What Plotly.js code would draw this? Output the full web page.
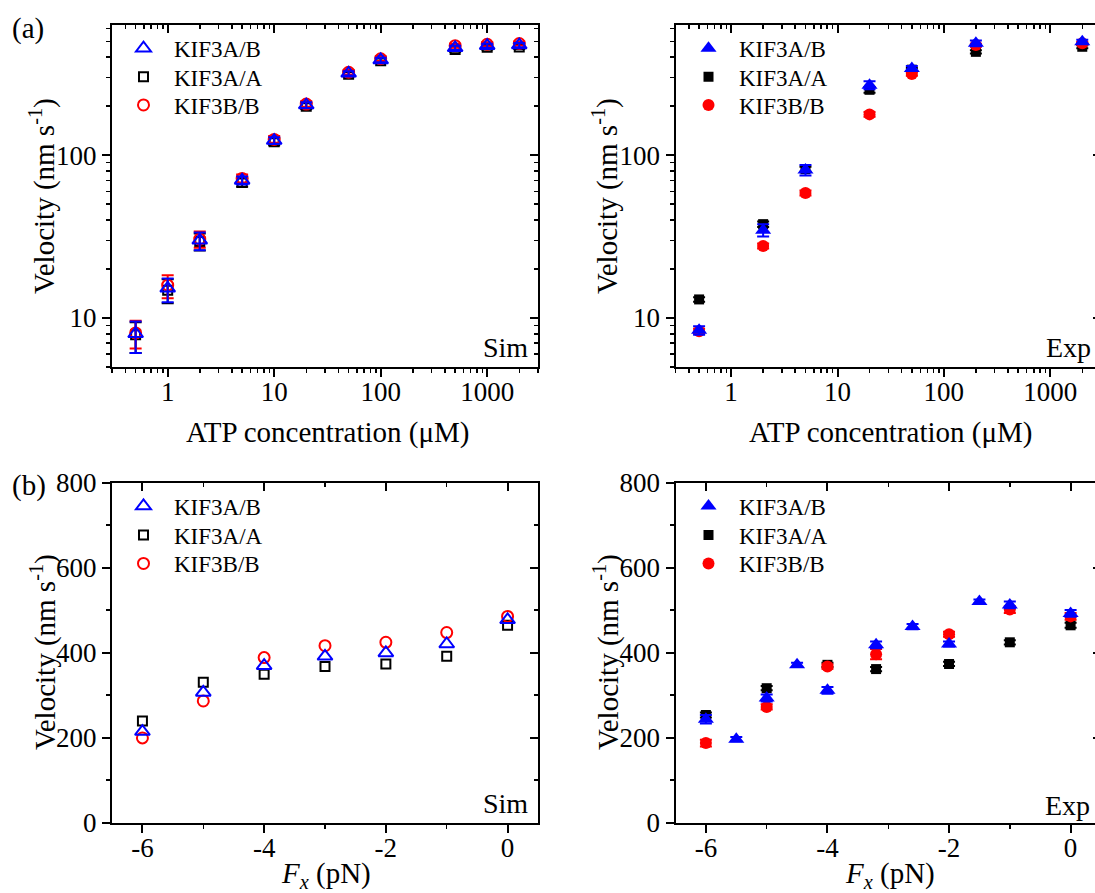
<!DOCTYPE html>
<html>
<head>
<meta charset="utf-8">
<script src="https://cdn.plot.ly/plotly-3.0.1.min.js"></script>
<style>
html,body{margin:0;padding:0;overflow:hidden;background:#fff;}
#chart{width:1110px;height:893px;}
</style>
</head>
<body>
<div id="chart"></div>
<script>
// ---------- data ----------
const seriesNames = ['KIF3A/B', 'KIF3A/A', 'KIF3B/B'];

// (a) Sim: velocity vs ATP
const atpSim = [0.5, 1, 2, 5, 10, 20, 50, 100, 500, 1000, 2000];
const simAB = [8.0, 15.2, 30, 70, 123, 203, 318, 384, 456, 470, 474];
const simABerrUp = [1.5, 2.3, 3.5, 4, 6, 8, 10, 12, 14, 14, 14];
const simABerrDn = [1.9, 2.7, 3.9, 4, 6, 8, 10, 12, 14, 14, 14];
const simAA = [7.9, 14.8, 29.5, 68, 121, 200, 314, 380, 446, 460, 462];
const simAAerrUp = [1.5, 2.5, 3.5, 4, 6, 8, 10, 12, 14, 14, 14];
const simAAerrDn = [1.8, 2.5, 3.5, 4, 6, 8, 10, 12, 14, 14, 14];
const simBB = [8.1, 15.9, 30.5, 72, 125, 206, 323, 391, 470, 480, 485];
const simBBerrUp = [1.5, 2.4, 3.5, 4, 6, 8, 10, 12, 14, 14, 14];
const simBBerrDn = [1.6, 2.7, 3.5, 4, 6, 8, 10, 12, 14, 14, 14];

// (a) Exp: velocity vs ATP
const atpExp = [0.5, 2, 5, 20, 50, 200, 2000];
const expAB = [8.4, 34.6, 81, 269, 341, 486, 497];
const expABerr = [0.5, 3, 6, 15, 12, 20, 15];
const expAA = [13, 37.7, 82, 252, 335, 431, 463];
const expAAerr = [0.4, 1.5, 3, 10, 8, 10, 10];
const expBB = [8.3, 27.7, 58.6, 178, 315, 474, 486];
const expBBerr = [0.3, 1, 2, 6, 8, 10, 10];

// (b) Sim: velocity vs force
const forceSim = [-6, -5, -4, -3, -2, -1, 0];
const fSimAB = [214, 306, 369, 391, 399, 420, 477];
const fSimAA = [239, 330, 349, 367, 373, 391, 464];
const fSimBB = [199, 286, 388, 416, 424, 447, 485];

// (b) Exp: velocity vs force
const forceExpAB = [-6, -5.5, -5, -4.5, -4, -3.2, -2.6, -2, -1.5, -1, 0];
const fExpAB = [243, 196, 293, 371, 311, 418, 461, 420, 520, 512, 492];
const fExpABerr = [10, 5, 8, 5, 8, 8, 6, 6, 5, 8, 8];
const forceExpAA = [-6, -5, -4, -3.2, -2, -1, 0];
const fExpAA = [253, 316, 371, 361, 373, 424, 464];
const fExpAAerr = [6, 5, 5, 5, 5, 5, 6];
const forceExpBB = [-6, -5, -4, -3.2, -2, -1, 0];
const fExpBB = [187, 272, 367, 396, 443, 501, 485];
const fExpBBerr = [8, 6, 5, 12, 6, 8, 8];

const atpTickVals = [1, 10, 100, 1000];
const atpTickText = ['1', '10', '100', '1000'];
const velLogTickVals = [10, 100];
const velLogTickText = ['10', '100'];
const forceTickVals = [-6, -4, -2, 0];
const forceTickText = ['-6', '-4', '-2', '0'];
const velLinTickVals = [0, 200, 400, 600, 800];
const velLinTickText = ['0', '200', '400', '600', '800'];
const panelLabels = ['(a)', '(b)'];
const panelTags = ['Sim', 'Exp', 'Sim', 'Exp'];
const velTitle = 'Velocity (nm s<sup>-1</sup>)';
const atpTitle = 'ATP concentration (\u03bcM)';
const fTitle = '<i>F</i><sub><i>x</i></sub> (pN)';

// ---------- styling / geometry ----------
const W = 1110, H = 893;
const FONT = 'Liberation Serif';
const BLUE = '#0000ff', BLACK = '#000000', RED = '#ff0000';
const panels = [
  {x0: 112, x1: 538, y0: 25, y1: 367},
  {x0: 675.5, x1: 1101, y0: 25, y1: 367},
  {x0: 112, x1: 538, y0: 482.5, y1: 822.5},
  {x0: 675.5, x1: 1101, y0: 482.5, y1: 822.5}
];
const xdom = p => [p.x0 / W, p.x1 / W];
const ydom = p => [1 - p.y1 / H, 1 - p.y0 / H];

const logX = {type: 'log', range: [Math.log10(0.3), Math.log10(3000)], tickvals: atpTickVals, ticktext: atpTickText, minorDtick: 'D1'};
const logY = {type: 'log', range: [Math.log10(5), Math.log10(630)], tickvals: velLogTickVals, ticktext: velLogTickText, minorDtick: 'D1'};
const linX = {type: 'linear', range: [-6.5, 0.5], tickvals: forceTickVals, ticktext: forceTickText, minorDtick: 1};
const linY = {type: 'linear', range: [0, 800], tickvals: velLinTickVals, ticktext: velLinTickText, minorDtick: 100};

function mainAxis(spec, dom, anchor, isX) {
  return {
    domain: dom, anchor: anchor, type: spec.type, range: spec.range,
    showgrid: false, zeroline: false, showline: true, mirror: true,
    linecolor: '#000', linewidth: 2,
    ticks: 'outside', ticklen: 8, tickwidth: 2, tickcolor: '#000',
    tickmode: 'array', tickvals: spec.tickvals, ticktext: spec.ticktext,
    ticklabelstandoff: isX ? -8 : 0,
    tickfont: {family: FONT, size: 27, color: '#000'},
    minor: {ticks: 'outside', ticklen: 4, tickwidth: 1.5, tickcolor: '#000', showgrid: false, dtick: spec.minorDtick,
      tick0: spec.type === 'linear' ? 0 : undefined}
  };
}
function mirrorAxis(spec, overlay, anchor, side) {
  return {
    overlaying: overlay, anchor: anchor, side: side, type: spec.type, range: spec.range,
    showgrid: false, zeroline: false, showline: false, showticklabels: false,
    ticks: 'inside', ticklen: 8, tickwidth: 2, tickcolor: '#000',
    tickmode: 'array', tickvals: spec.tickvals,
    minor: {ticks: 'inside', ticklen: 4, tickwidth: 1.5, tickcolor: '#000', showgrid: false, dtick: spec.minorDtick,
      tick0: spec.type === 'linear' ? 0 : undefined}
  };
}

const specs = [[logX, logY], [logX, logY], [linX, linY], [linX, linY]];
const layout = {
  width: W, height: H,
  margin: {l: 0, r: 0, t: 0, b: 0},
  paper_bgcolor: '#fff', plot_bgcolor: '#fff',
  font: {family: FONT, color: '#000'},
  annotations: [],
  showlegend: true
};
specs.forEach((s, i) => {
  const n = i + 1, m = i + 5;
  const p = panels[i];
  layout['xaxis' + n] = mainAxis(s[0], xdom(p), 'y' + n, true);
  layout['yaxis' + n] = mainAxis(s[1], ydom(p), 'x' + n, false);
  layout['xaxis' + m] = mirrorAxis(s[0], 'x' + n, 'y' + m, 'top');
  layout['yaxis' + m] = mirrorAxis(s[1], 'y' + n, 'x' + m, 'right');
});

// one legend per entry so each row sits where the reference has it
const legendX = [113, 678, 113, 678];
const legendRows = [[48.3, 76.7, 105], [48.3, 76.7, 105], [506, 535, 563.5], [506, 535, 563.5]];
function legendKey(panel, row) {
  const k = (panel - 1) * 3 + row + 1;
  return k === 1 ? 'legend' : 'legend' + k;
}
for (let p = 1; p <= 4; p++) {
  for (let r = 0; r < 3; r++) {
    layout[legendKey(p, r)] = {
      x: legendX[p - 1] / W, y: 1 - legendRows[p - 1][r] / H, xanchor: 'left', yanchor: 'middle',
      bgcolor: 'rgba(0,0,0,0)', borderwidth: 0,
      font: {family: FONT, size: 23, color: '#000'},
      itemwidth: 51
    };
  }
}

// annotations: panel labels, tags and axis titles
const ann = (txt, px, py, xa, size, angle) => ({
  text: txt, xref: 'paper', yref: 'paper', x: px / W, y: 1 - py / H,
  xanchor: xa, yanchor: 'middle', showarrow: false, textangle: angle || 0,
  font: {family: FONT, size: size, color: '#000'}
});
layout.annotations.push(ann(panelLabels[0], 10, 28, 'left', 29));
layout.annotations.push(ann(panelLabels[1], 10, 485, 'left', 29));
const tagPos = [[530, 348], [1093, 348], [530, 803], [1092, 805]];
panelTags.forEach((t, i) => layout.annotations.push(ann(t, tagPos[i][0], tagPos[i][1], 'right', 28)));
// x titles
layout.annotations.push(ann(atpTitle, 327, 433, 'center', 29));
layout.annotations.push(ann(atpTitle, 890, 433, 'center', 29));
layout.annotations.push(ann(fTitle, 326, 875, 'center', 29));
layout.annotations.push(ann(fTitle, 890, 875, 'center', 29));
// y titles
layout.annotations.push(ann(velTitle, 43, 196, 'center', 29, -90));
layout.annotations.push(ann(velTitle, 606, 196, 'center', 29, -90));
layout.annotations.push(ann(velTitle, 43, 652, 'center', 29, -90));
layout.annotations.push(ann(velTitle, 606, 652, 'center', 29, -90));

// ---------- traces ----------
const traces = [];
function addSeries(panel, row, x, y, errUp, errDn, sym, color, size, open) {
  const t = {
    type: 'scatter', mode: 'markers', name: seriesNames[row], x: x, y: y,
    xaxis: 'x' + panel, yaxis: 'y' + panel,
    legend: legendKey(panel, row),
    marker: open
      ? {symbol: sym + '-open', size: size, color: color, line: {color: color, width: 2}}
      : {symbol: sym, size: size, color: color, line: {width: 0}},
    cliponaxis: false, hoverinfo: 'x+y+name'
  };
  if (errUp) {
    t.error_y = {type: 'data', array: errUp, arrayminus: errDn || errUp, visible: true,
      color: color, thickness: 2, width: 6};
  }
  traces.push(t);
}
// draw order: black, red, blue (blue on top)
addSeries(1, 1, atpSim, simAA, simAAerrUp, simAAerrDn, 'square', BLACK, 9, true);
addSeries(1, 2, atpSim, simBB, simBBerrUp, simBBerrDn, 'circle', RED, 11, true);
addSeries(1, 0, atpSim, simAB, simABerrUp, simABerrDn, 'triangle-up', BLUE, 13, true);
addSeries(2, 1, atpExp, expAA, expAAerr, null, 'square', BLACK, 10, false);
addSeries(2, 2, atpExp, expBB, expBBerr, null, 'circle', RED, 12, false);
addSeries(2, 0, atpExp, expAB, expABerr, null, 'triangle-up', BLUE, 14, false);
addSeries(3, 1, forceSim, fSimAA, null, null, 'square', BLACK, 9, true);
addSeries(3, 2, forceSim, fSimBB, null, null, 'circle', RED, 11, true);
addSeries(3, 0, forceSim, fSimAB, null, null, 'triangle-up', BLUE, 13, true);
addSeries(4, 1, forceExpAA, fExpAA, fExpAAerr, null, 'square', BLACK, 10, false);
addSeries(4, 2, forceExpBB, fExpBB, fExpBBerr, null, 'circle', RED, 12, false);
addSeries(4, 0, forceExpAB, fExpAB, fExpABerr, null, 'triangle-up', BLUE, 14, false);

// empty helper traces so the mirrored (inward-tick) overlay axes are drawn
for (let i = 5; i <= 8; i++) {
  traces.push({type: 'scatter', mode: 'markers', x: [], y: [], xaxis: 'x' + i, yaxis: 'y' + i,
    showlegend: false, hoverinfo: 'skip'});
}

Plotly.newPlot('chart', traces, layout, {displayModeBar: false, staticPlot: true});
</script>
</body>
</html>
